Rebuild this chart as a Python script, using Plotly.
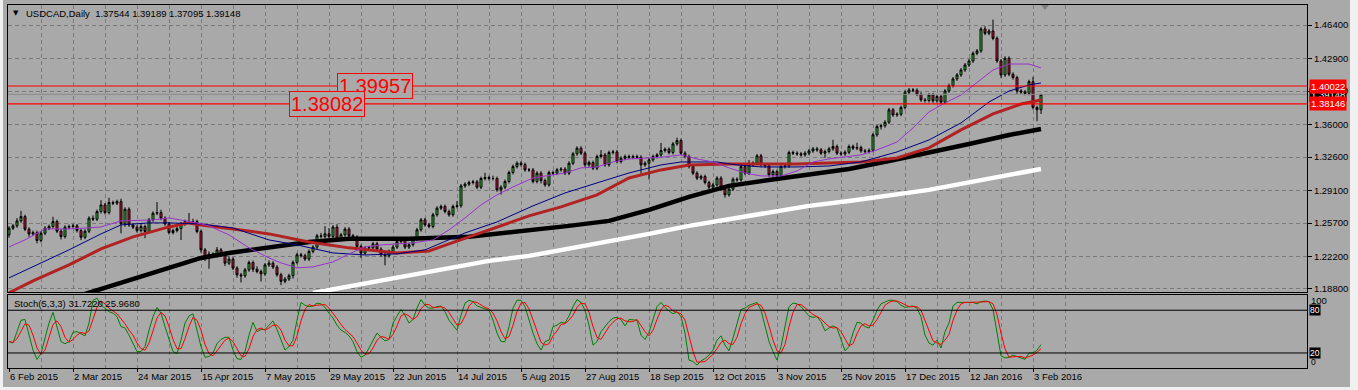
import plotly.graph_objects as go

# ---------------- data ----------------
symbol_header = "USDCAD,Daily  1.37544 1.39189 1.37095 1.39148"
stoch_header = "Stoch(5,3,3) 31.7220 25.9680"

date_labels = ["6 Feb 2015", "2 Mar 2015", "24 Mar 2015", "15 Apr 2015", "7 May 2015",
               "29 May 2015", "22 Jun 2015", "14 Jul 2015", "5 Aug 2015", "27 Aug 2015",
               "18 Sep 2015", "12 Oct 2015", "3 Nov 2015", "25 Nov 2015", "17 Dec 2015",
               "12 Jan 2016", "3 Feb 2016"]

price_ticks = [1.188, 1.222, 1.257, 1.291, 1.326, 1.360, 1.395, 1.429, 1.464]
price_tick_text = ["1.18800", "1.22200", "1.25700", "1.29100", "1.32600", "1.36000",
                   "1.39500", "1.42900", "1.46400"]

first_open = 1.2446
closes = [
    1.2516, 1.2540, 1.2592, 1.2637, 1.2505, 1.2456, 1.2470, 1.2387, 1.2463, 1.2516,
    1.2533, 1.2585, 1.2484, 1.2428, 1.2526, 1.2533, 1.2540, 1.2491, 1.2421, 1.2484,
    1.2620, 1.2610, 1.2690, 1.2759, 1.2679, 1.2784, 1.2777, 1.2794, 1.2561, 1.2714,
    1.2550, 1.2526, 1.2491, 1.2533, 1.2481, 1.2603, 1.2672, 1.2679, 1.2620, 1.2561,
    1.2470, 1.2491, 1.2512, 1.2561, 1.2585, 1.2582, 1.2585, 1.2481, 1.2289, 1.2202,
    1.2244, 1.2227, 1.2289, 1.2237, 1.2150, 1.2192, 1.2098, 1.2028, 1.2018, 1.2080,
    1.2157, 1.2087, 1.2063, 1.2038, 1.2132, 1.2150, 1.2109, 1.2029, 1.1960, 1.1984,
    1.2019, 1.2158, 1.2238, 1.2228, 1.2193, 1.2273, 1.2318, 1.2436, 1.2429, 1.2457,
    1.2429, 1.2527, 1.2402, 1.2447, 1.2506, 1.2436, 1.2422, 1.2325, 1.2255, 1.2308,
    1.2311, 1.2353, 1.2297, 1.2238, 1.2228, 1.2273, 1.2318, 1.2377, 1.2395, 1.2318,
    1.2343, 1.2402, 1.2499, 1.2603, 1.2551, 1.2534, 1.2656, 1.2725, 1.2743, 1.2690,
    1.2656, 1.2743, 1.2750, 1.2958, 1.2976, 1.2993, 1.3000, 1.2944, 1.3035, 1.3045,
    1.3035, 1.3035, 1.2917, 1.2944, 1.3004, 1.3098, 1.3160, 1.3195, 1.3181, 1.3125,
    1.3125, 1.3004, 1.3091, 1.3014, 1.2969, 1.3098, 1.3091, 1.3126, 1.3133, 1.3091,
    1.3195, 1.3293, 1.3352, 1.3300, 1.3178, 1.3202, 1.3143, 1.3265, 1.3282, 1.3178,
    1.3307, 1.3313, 1.3213, 1.3247, 1.3265, 1.3258, 1.3265, 1.3258, 1.3178, 1.3195,
    1.3230, 1.3265, 1.3282, 1.3327, 1.3341, 1.3307, 1.3397, 1.3432, 1.3300, 1.3265,
    1.3160, 1.3091, 1.3039, 1.3056, 1.2993, 1.2945, 1.2969, 1.3039, 1.2924, 1.2865,
    1.2924, 1.3028, 1.3021, 1.3160, 1.3091, 1.3178, 1.3195, 1.3272, 1.3178, 1.3167,
    1.3073, 1.3108, 1.3063, 1.3160, 1.3167, 1.3307, 1.3300, 1.3293, 1.3283, 1.3300,
    1.3324, 1.3345, 1.3335, 1.3300, 1.3317, 1.3345, 1.3370, 1.3300, 1.3293, 1.3310,
    1.3370, 1.3352, 1.3359, 1.3324, 1.3317, 1.3330, 1.3492, 1.3578, 1.3587, 1.3624,
    1.3753, 1.3700, 1.3707, 1.3777, 1.3937, 1.3961, 1.3958, 1.3916, 1.3857, 1.3850,
    1.3909, 1.3847, 1.3892, 1.3833, 1.3951, 1.4007, 1.4076, 1.4118, 1.4170, 1.4222,
    1.4264, 1.4344, 1.4369, 1.4598, 1.4553, 1.4577, 1.4501, 1.4264, 1.4118, 1.4292,
    1.4125, 1.4090, 1.3951, 1.3940, 1.3925, 1.4048, 1.3777, 1.37544, 1.39148]

# wick lengths, in units of 0.001
upper_wick = [
    2, 2, 3, 6, 2, 2, 2, 2, 2, 2,
    2, 5, 2, 2, 2, 2, 2, 2, 2, 2,
    2, 3, 2, 5, 2, 5, 2, 2, 3, 2,
    2, 2, 2, 3, 2, 2, 2, 11, 3, 2,
    2, 2, 2, 2, 2, 9, 3, 2, 2, 2,
    3, 2, 3, 2, 2, 3, 2, 2, 2, 2,
    2, 2, 3, 2, 2, 3, 2, 2, 2, 2,
    2, 2, 2, 2, 2, 2, 2, 2, 3, 8,
    6, 2, 3, 2, 2, 2, 2, 2, 2, 2,
    2, 2, 2, 2, 2, 2, 2, 2, 2, 2,
    2, 2, 2, 2, 2, 2, 2, 2, 2, 2,
    2, 2, 5, 2, 2, 2, 2, 2, 2, 5,
    2, 3, 2, 2, 2, 2, 2, 2, 2, 2,
    2, 2, 2, 2, 2, 2, 2, 2, 2, 2,
    2, 2, 2, 2, 2, 2, 2, 2, 5, 2,
    2, 2, 2, 2, 2, 2, 2, 2, 2, 2,
    2, 2, 2, 8, 2, 2, 2, 3, 2, 2,
    2, 2, 2, 2, 2, 2, 2, 2, 2, 2,
    2, 2, 2, 2, 2, 5, 2, 2, 2, 2,
    2, 2, 2, 2, 2, 2, 2, 2, 2, 2,
    2, 2, 2, 2, 2, 2, 7, 2, 2, 2,
    2, 2, 5, 2, 2, 2, 2, 2, 2, 2,
    2, 2, 2, 2, 2, 2, 2, 2, 2, 2,
    2, 2, 2, 2, 2, 2, 2, 2, 2, 2,
    2, 2, 2, 2, 3, 2, 12, 2, 2, 2,
    2, 2, 2, 2, 2, 2, 5, 2, 0.41]
lower_wick = [
    3, 2, 2, 2, 2, 3, 2, 3, 2, 2,
    2, 2, 2, 3, 2, 2, 2, 2, 3, 2,
    2, 2, 2, 2, 2, 2, 2, 2, 10, 3,
    2, 2, 2, 2, 7, 2, 2, 2, 2, 2,
    2, 2, 2, 12, 2, 2, 2, 2, 3, 3,
    11, 2, 2, 2, 3, 2, 2, 3, 7, 2,
    2, 3, 2, 8, 2, 2, 2, 2, 4, 2,
    2, 3, 2, 2, 2, 2, 2, 2, 2, 2,
    2, 2, 2, 2, 2, 2, 2, 2, 5, 2,
    2, 2, 2, 2, 10, 2, 2, 2, 2, 2,
    2, 2, 2, 2, 2, 2, 2, 2, 2, 2,
    2, 2, 2, 2, 2, 2, 2, 2, 2, 2,
    2, 2, 2, 5, 2, 2, 2, 2, 2, 2,
    2, 2, 2, 3, 2, 2, 2, 2, 2, 2,
    2, 2, 2, 2, 2, 2, 2, 2, 2, 2,
    2, 2, 2, 2, 2, 2, 2, 2, 9, 2,
    17, 2, 2, 2, 2, 2, 2, 2, 2, 2,
    2, 2, 2, 2, 2, 2, 2, 2, 2, 3,
    2, 2, 2, 2, 2, 2, 2, 2, 2, 2,
    2, 2, 2, 2, 2, 2, 2, 2, 2, 2,
    2, 2, 2, 2, 5, 2, 2, 2, 2, 2,
    2, 2, 2, 2, 2, 2, 2, 2, 3, 2,
    2, 2, 2, 2, 2, 2, 2, 2, 2, 2,
    2, 2, 2, 2, 2, 2, 2, 2, 2, 2,
    2, 2, 2, 2, 2, 2, 2, 2, 3, 2,
    2, 2, 3, 2, 2, 2, 2, 12, 4.49]

# moving averages (sampled vertices)
ma200_bars = [76, 90, 100, 110, 120, 130, 140, 150, 160, 170, 180, 190, 200, 210, 220, 230, 240, 250, 258]
ma200_vals = [1.1839, 1.1944, 1.2028, 1.2101, 1.2174, 1.2226, 1.2299, 1.2372, 1.2456, 1.2540,
              1.2613, 1.2686, 1.2749, 1.2801, 1.2864, 1.2916, 1.2995, 1.3068, 1.3135]
ma100_bars = [18, 30, 40, 48, 55, 65, 75, 85, 100, 115, 130, 140, 150, 160, 170, 180, 190, 200,
              210, 220, 230, 240, 250, 258]
ma100_vals = [1.1815, 1.1975, 1.2105, 1.2205, 1.2257, 1.2310, 1.2372, 1.2404, 1.2404, 1.2425,
              1.2487, 1.2540, 1.2592, 1.2707, 1.2843, 1.2958, 1.3020, 1.3073, 1.3135, 1.3219,
              1.3302, 1.3396, 1.3490, 1.3553]
ma50_bars = [0, 6, 15, 23, 31, 40, 45, 48, 56, 65, 75, 85, 97, 105, 110, 118, 130, 138, 147, 155,
             163, 170, 180, 197, 213, 222, 230, 238, 246, 253, 258]
ma50_vals = [1.1839, 1.1965, 1.2132, 1.2299, 1.2425, 1.2529, 1.2571, 1.2550, 1.2508, 1.2456,
             1.2372, 1.2310, 1.2257, 1.2278, 1.2351, 1.2466, 1.2644, 1.2738, 1.2864, 1.3041,
             1.3125, 1.3177, 1.3187, 1.3187, 1.3208, 1.3250, 1.3355, 1.3543, 1.3710, 1.3814, 1.3856]
ma20_bars = [0, 6, 15, 23, 28, 35, 40, 48, 56, 65, 72, 81, 89, 97, 104, 114, 122, 131, 139, 147,
             155, 163, 168, 177, 182, 188, 197, 205, 213, 222, 230, 238, 245, 250, 255, 258]
ma20_vals = [1.1996, 1.2111, 1.2289, 1.2456, 1.2550, 1.2571, 1.2571, 1.2560, 1.2518, 1.2393,
             1.2341, 1.2257, 1.2236, 1.2247, 1.2289, 1.2466, 1.2581, 1.2749, 1.2884, 1.2989,
             1.3093, 1.3177, 1.3208, 1.3208, 1.3177, 1.3156, 1.3156, 1.3166, 1.3208, 1.3313,
             1.3438, 1.3616, 1.3835, 1.3950, 1.4013, 1.4034]
ma10_bars = [0, 4, 9, 15, 20, 23, 28, 33, 36, 40, 43, 47, 50, 55, 60, 65, 68, 72, 76, 81,
             85, 89, 93, 97, 101, 106, 110, 114, 118, 122, 126, 131, 139, 143, 147, 151, 155, 160, 164, 168,
             172, 176, 180, 184, 188, 193, 197, 201, 205, 213, 217, 222, 226, 230, 234, 238, 242, 246, 250, 255,
             258]
ma10_vals = [1.2320, 1.2393, 1.2508, 1.2508, 1.2519, 1.2529, 1.2592, 1.2602, 1.2602, 1.2623,
             1.2602, 1.2571, 1.2540, 1.2446, 1.2310, 1.2205, 1.2153, 1.2101, 1.2111, 1.2163,
             1.2247, 1.2320, 1.2341, 1.2351, 1.2362, 1.2393, 1.2498, 1.2623, 1.2759, 1.2864,
             1.2947, 1.3041, 1.3093, 1.3146, 1.3156, 1.3208, 1.3240, 1.3250, 1.3261, 1.3282,
             1.3240, 1.3208, 1.3146, 1.3093, 1.3062, 1.3062, 1.3114, 1.3208, 1.3240, 1.3282,
             1.3334, 1.3417, 1.3564, 1.3731, 1.3825, 1.3908, 1.4044, 1.4170, 1.4232, 1.4232,
             1.4191]

stoch_k = [
    36, 34, 50, 66, 67, 45, 24, 11, 19, 41,
    62, 77, 57, 36, 33, 36, 49, 50, 47, 44,
    62, 94, 97, 87, 83, 78, 76, 71, 57, 55,
    45, 34, 22, 22, 29, 52, 71, 84, 76, 57,
    38, 22, 19, 38, 62, 72, 75, 52, 29, 14,
    15, 20, 33, 39, 42, 42, 24, 12, 11, 22,
    45, 63, 50, 53, 53, 59, 65, 53, 38, 24,
    29, 38, 66, 91, 87, 85, 86, 90, 89, 84,
    76, 69, 59, 52, 49, 44, 36, 22, 14, 17,
    27, 38, 48, 42, 37, 39, 62, 72, 81, 73,
    62, 67, 83, 95, 87, 83, 83, 85, 86, 78,
    66, 59, 52, 73, 90, 94, 92, 86, 84, 83,
    80, 66, 48, 36, 36, 57, 83, 94, 94, 85,
    66, 48, 33, 24, 36, 38, 57, 59, 63, 62,
    72, 85, 95, 91, 80, 59, 31, 36, 50, 57,
    64, 69, 70, 67, 58, 67, 67, 66, 45, 39,
    49, 67, 85, 91, 84, 79, 75, 78, 71, 48,
    10, 8, 3, 9, 12, 17, 24, 38, 44, 31,
    23, 41, 62, 81, 83, 87, 89, 91, 80, 57,
    36, 22, 10, 29, 57, 85, 90, 89, 85, 79,
    72, 70, 71, 64, 51, 55, 58, 55, 38, 23,
    29, 48, 63, 62, 57, 55, 66, 80, 89, 91,
    94, 94, 92, 87, 84, 85, 86, 83, 71, 45,
    34, 31, 38, 27, 50, 62, 86, 91, 91, 91,
    92, 91, 89, 92, 93, 92, 81, 48, 16, 13,
    14, 17, 15, 14, 11, 20, 20, 24, 31.722]
stoch_d = [
    36, 35, 40, 50, 61, 59, 45, 27, 18, 24,
    41, 60, 65, 57, 42, 35, 39, 45, 49, 47,
    51, 67, 84, 93, 89, 83, 79, 75, 68, 61,
    52, 45, 34, 26, 24, 34, 51, 69, 77, 72,
    57, 39, 26, 26, 40, 57, 70, 66, 52, 32,
    19, 16, 23, 31, 38, 41, 36, 26, 16, 15,
    26, 43, 53, 55, 52, 55, 59, 59, 52, 38,
    30, 30, 44, 65, 81, 88, 86, 87, 88, 88,
    83, 76, 68, 60, 53, 48, 43, 34, 24, 18,
    19, 27, 38, 43, 42, 39, 46, 58, 72, 75,
    72, 67, 71, 82, 88, 88, 84, 84, 85, 83,
    77, 68, 59, 61, 72, 86, 92, 91, 87, 84,
    82, 76, 65, 50, 40, 43, 59, 78, 90, 91,
    82, 66, 49, 35, 31, 33, 44, 51, 60, 61,
    66, 73, 84, 90, 89, 77, 57, 42, 39, 48,
    57, 63, 68, 69, 65, 64, 64, 67, 59, 50,
    44, 52, 67, 81, 87, 85, 79, 77, 75, 66,
    43, 22, 7, 7, 8, 13, 18, 26, 35, 38,
    33, 32, 42, 61, 75, 84, 86, 89, 87, 76,
    58, 38, 23, 20, 32, 57, 77, 88, 88, 84,
    79, 74, 71, 68, 62, 57, 55, 56, 50, 39,
    30, 33, 47, 58, 61, 58, 59, 67, 78, 87,
    91, 93, 93, 91, 88, 85, 85, 85, 80, 66,
    50, 37, 34, 32, 38, 46, 66, 80, 89, 91,
    91, 91, 91, 91, 91, 92, 89, 74, 48, 26,
    14, 15, 15, 15, 13, 15, 17, 21, 25.968]

level_lines = [1.40022, 1.38146]      # red horizontal lines (right-axis values)
bid_price = 1.39148
text_labels = ["1.39957", "1.38082"]  # boxed red chart texts
stoch_levels = [80, 20]

# ---------------- styling / geometry ----------------
W, H = 1358, 390
ML, MR, MT, MB = 8, 51, 5, 22          # plot area: x 8..1307, y 5..368
PW, PH = W - ML - MR, H - MT - MB
BG = "#A9A9A9"
GRID = "#7A7A7A"
FONT = "Liberation Sans"
FS = 9.5


def px(x):
    return (x - ML) / PW


def py(y):
    return (H - MB - y) / PH


n = len(closes)
bars = list(range(n))
opens = [first_open] + closes[:-1]
highs = [max(o, c) + u * 0.001 for o, c, u in zip(opens, closes, upper_wick)]
lows = [min(o, c) - d * 0.001 for o, c, d in zip(opens, closes, lower_wick)]

label_bars = list(range(0, 16 * len(date_labels), 16))
minor_bars = [b + 8 for b in label_bars]
xr = [-0.25, 324.5]

fig = go.Figure()
fig.add_trace(go.Candlestick(
    x=bars, open=opens, high=highs, low=lows, close=closes, xaxis="x", yaxis="y",
    increasing=dict(fillcolor="#32CD32", line=dict(color="black", width=1)),
    decreasing=dict(fillcolor="#DC143C", line=dict(color="black", width=1)),
    whiskerwidth=0, hoverinfo="skip", showlegend=False))

for xs, ys, col, wd in [(ma200_bars, ma200_vals, "white", 4.5),
                        (ma100_bars, ma100_vals, "black", 4.5),
                        (ma50_bars, ma50_vals, "#B22222", 3),
                        (ma20_bars, ma20_vals, "#000080", 1),
                        (ma10_bars, ma10_vals, "#9932CC", 1)]:
    fig.add_trace(go.Scatter(x=xs, y=ys, mode="lines", line=dict(color=col, width=wd),
                             xaxis="x", yaxis="y", hoverinfo="skip", showlegend=False))

fig.add_trace(go.Scatter(x=bars, y=stoch_k, mode="lines", line=dict(color="#008000", width=1),
                         xaxis="x2", yaxis="y2", hoverinfo="skip", showlegend=False))
fig.add_trace(go.Scatter(x=bars, y=stoch_d, mode="lines", line=dict(color="#FF0000", width=1),
                         xaxis="x2", yaxis="y2", hoverinfo="skip", showlegend=False))

main_bottom = py(292)
stoch_top = py(295)
y_top = 1.464 + 20 / 956.5
y_bot = 1.464 - 267 / 956.5

grid_common = dict(showgrid=True, gridcolor=GRID, griddash="4px,3px", gridwidth=1)
axis_line = dict(showline=True, mirror=True, linecolor="black", linewidth=1, zeroline=False)

fig.update_layout(
    width=W, height=H, margin=dict(l=ML, r=MR, t=MT, b=MB, autoexpand=False),
    paper_bgcolor=BG, plot_bgcolor=BG, showlegend=False,
    font=dict(family=FONT, size=FS, color="black"),
    xaxis=dict(domain=[0, 1], anchor="y", range=xr, tickmode="array", tickvals=label_bars,
               showticklabels=False, ticks="", rangeslider=dict(visible=False),
               minor=dict(tickmode="array", tickvals=minor_bars, showgrid=True, gridcolor=GRID,
                          griddash="4px,3px", ticks=""),
               **grid_common, **axis_line),
    yaxis=dict(domain=[main_bottom, 1], anchor="x", range=[y_bot, y_top], side="right",
               tickmode="array", tickvals=price_ticks, ticktext=price_tick_text,
               ticks="outside", ticklen=4, tickcolor="black",
               tickfont=dict(family=FONT, size=FS, color="black"),
               **grid_common, **axis_line),
    xaxis2=dict(domain=[0, 1], anchor="y2", range=xr, tickmode="array", tickvals=label_bars,
                ticktext=date_labels, ticks="outside", ticklen=3, tickcolor="black",
                ticklabelposition="outside right",
                tickfont=dict(family=FONT, size=FS, color="black"),
                minor=dict(tickmode="array", tickvals=minor_bars, showgrid=True, gridcolor=GRID,
                           griddash="4px,3px", ticks=""),
                **grid_common, **axis_line),
    yaxis2=dict(domain=[0, stoch_top], anchor="x2", range=[-1.1, 101.4], side="right",
                showticklabels=False, ticks="", showgrid=False, **axis_line),
)

shapes = []
for v in level_lines:
    shapes.append(dict(type="line", xref="x domain", x0=0, x1=1, yref="y", y0=v, y1=v,
                       line=dict(color="#FF0000", width=1.2)))
shapes.append(dict(type="line", xref="x domain", x0=0, x1=1, yref="y", y0=bid_price, y1=bid_price,
                   line=dict(color="#8C8C8C", width=1)))
for v in stoch_levels:
    shapes.append(dict(type="line", xref="x2 domain", x0=0, x1=1, yref="y2", y0=v, y1=v,
                       line=dict(color="black", width=1)))
# chart-shift marker
shapes.append(dict(type="path", xref="paper", yref="paper",
                   path=f"M {px(1041)},{py(5)} L {px(1049)},{py(5)} L {px(1045)},{py(10)} Z",
                   fillcolor="#7F7F7F", line=dict(width=0)))
# window edges
for x0, y0, x1, y1 in [(0, 0, 3, H), (1350, 0, W, H), (0, 387, W, H)]:
    shapes.append(dict(type="rect", xref="paper", yref="paper", x0=px(x0), x1=px(x1),
                       y0=py(y1), y1=py(y0), fillcolor="#F0F0F0", line=dict(width=0),
                       layer="below"))
fig.update_layout(shapes=shapes)

ann = []
ann.append(dict(xref="paper", yref="paper", x=px(11), y=py(13), xanchor="left", yanchor="middle",
                text="▼", showarrow=False, font=dict(family="DejaVu Sans", size=7, color="black")))
ann.append(dict(xref="paper", yref="paper", x=px(24), y=py(13), xanchor="left", yanchor="middle",
                text=symbol_header.replace("  ", "&nbsp;&nbsp;"), showarrow=False,
                font=dict(family=FONT, size=FS, color="black")))
ann.append(dict(xref="paper", yref="paper", x=px(12), y=py(303.5), xanchor="left", yanchor="middle",
                text=stoch_header, showarrow=False, font=dict(family=FONT, size=FS, color="black")))
# big boxed texts
for t, v, xl in [(text_labels[0], level_lines[0], 337), (text_labels[1], level_lines[1], 289)]:
    ann.append(dict(xref="paper", yref="y", x=px(xl), y=v, xanchor="left", yanchor="middle",
                    text=t, showarrow=False, bgcolor=BG, bordercolor="#FF0000", borderwidth=1,
                    borderpad=1, font=dict(family=FONT, size=20, color="#FF0000")))
# right-axis price boxes
for t, v, bgc in [(f"{bid_price:.5f}", bid_price, "black"),
                  (f"{level_lines[0]:.5f}", level_lines[0], "#FF0000"),
                  (f"{level_lines[1]:.5f}", level_lines[1], "#FF0000")]:
    ann.append(dict(xref="paper", yref="y", x=1, y=v, xanchor="left", yanchor="middle", xshift=2,
                    text=t, showarrow=False, bgcolor=bgc, borderpad=1,
                    font=dict(family=FONT, size=FS, color="white")))
# stochastic scale labels
ann.append(dict(xref="paper", yref="y2", x=1, y=100, xanchor="left", yanchor="top", xshift=2,
                yshift=3, text="100", showarrow=False, font=dict(family=FONT, size=FS, color="black")))
for v in stoch_levels:
    ann.append(dict(xref="paper", yref="y2", x=1, y=v, xanchor="left", yanchor="middle", xshift=2,
                    text=str(v), showarrow=False, bgcolor="black", borderpad=0,
                    font=dict(family=FONT, size=8.5, color="white")))
ann.append(dict(xref="paper", yref="y2", x=1, y=0, xanchor="left", yanchor="middle", xshift=2,
                yshift=5, text="0", showarrow=False, font=dict(family=FONT, size=8.5, color="black")))
fig.update_layout(annotations=ann)

fig.write_html("out.html", config={"displayModeBar": False},
               post_script="document.body.style.margin='0px';"
                           "document.body.style.overflow='hidden';")
